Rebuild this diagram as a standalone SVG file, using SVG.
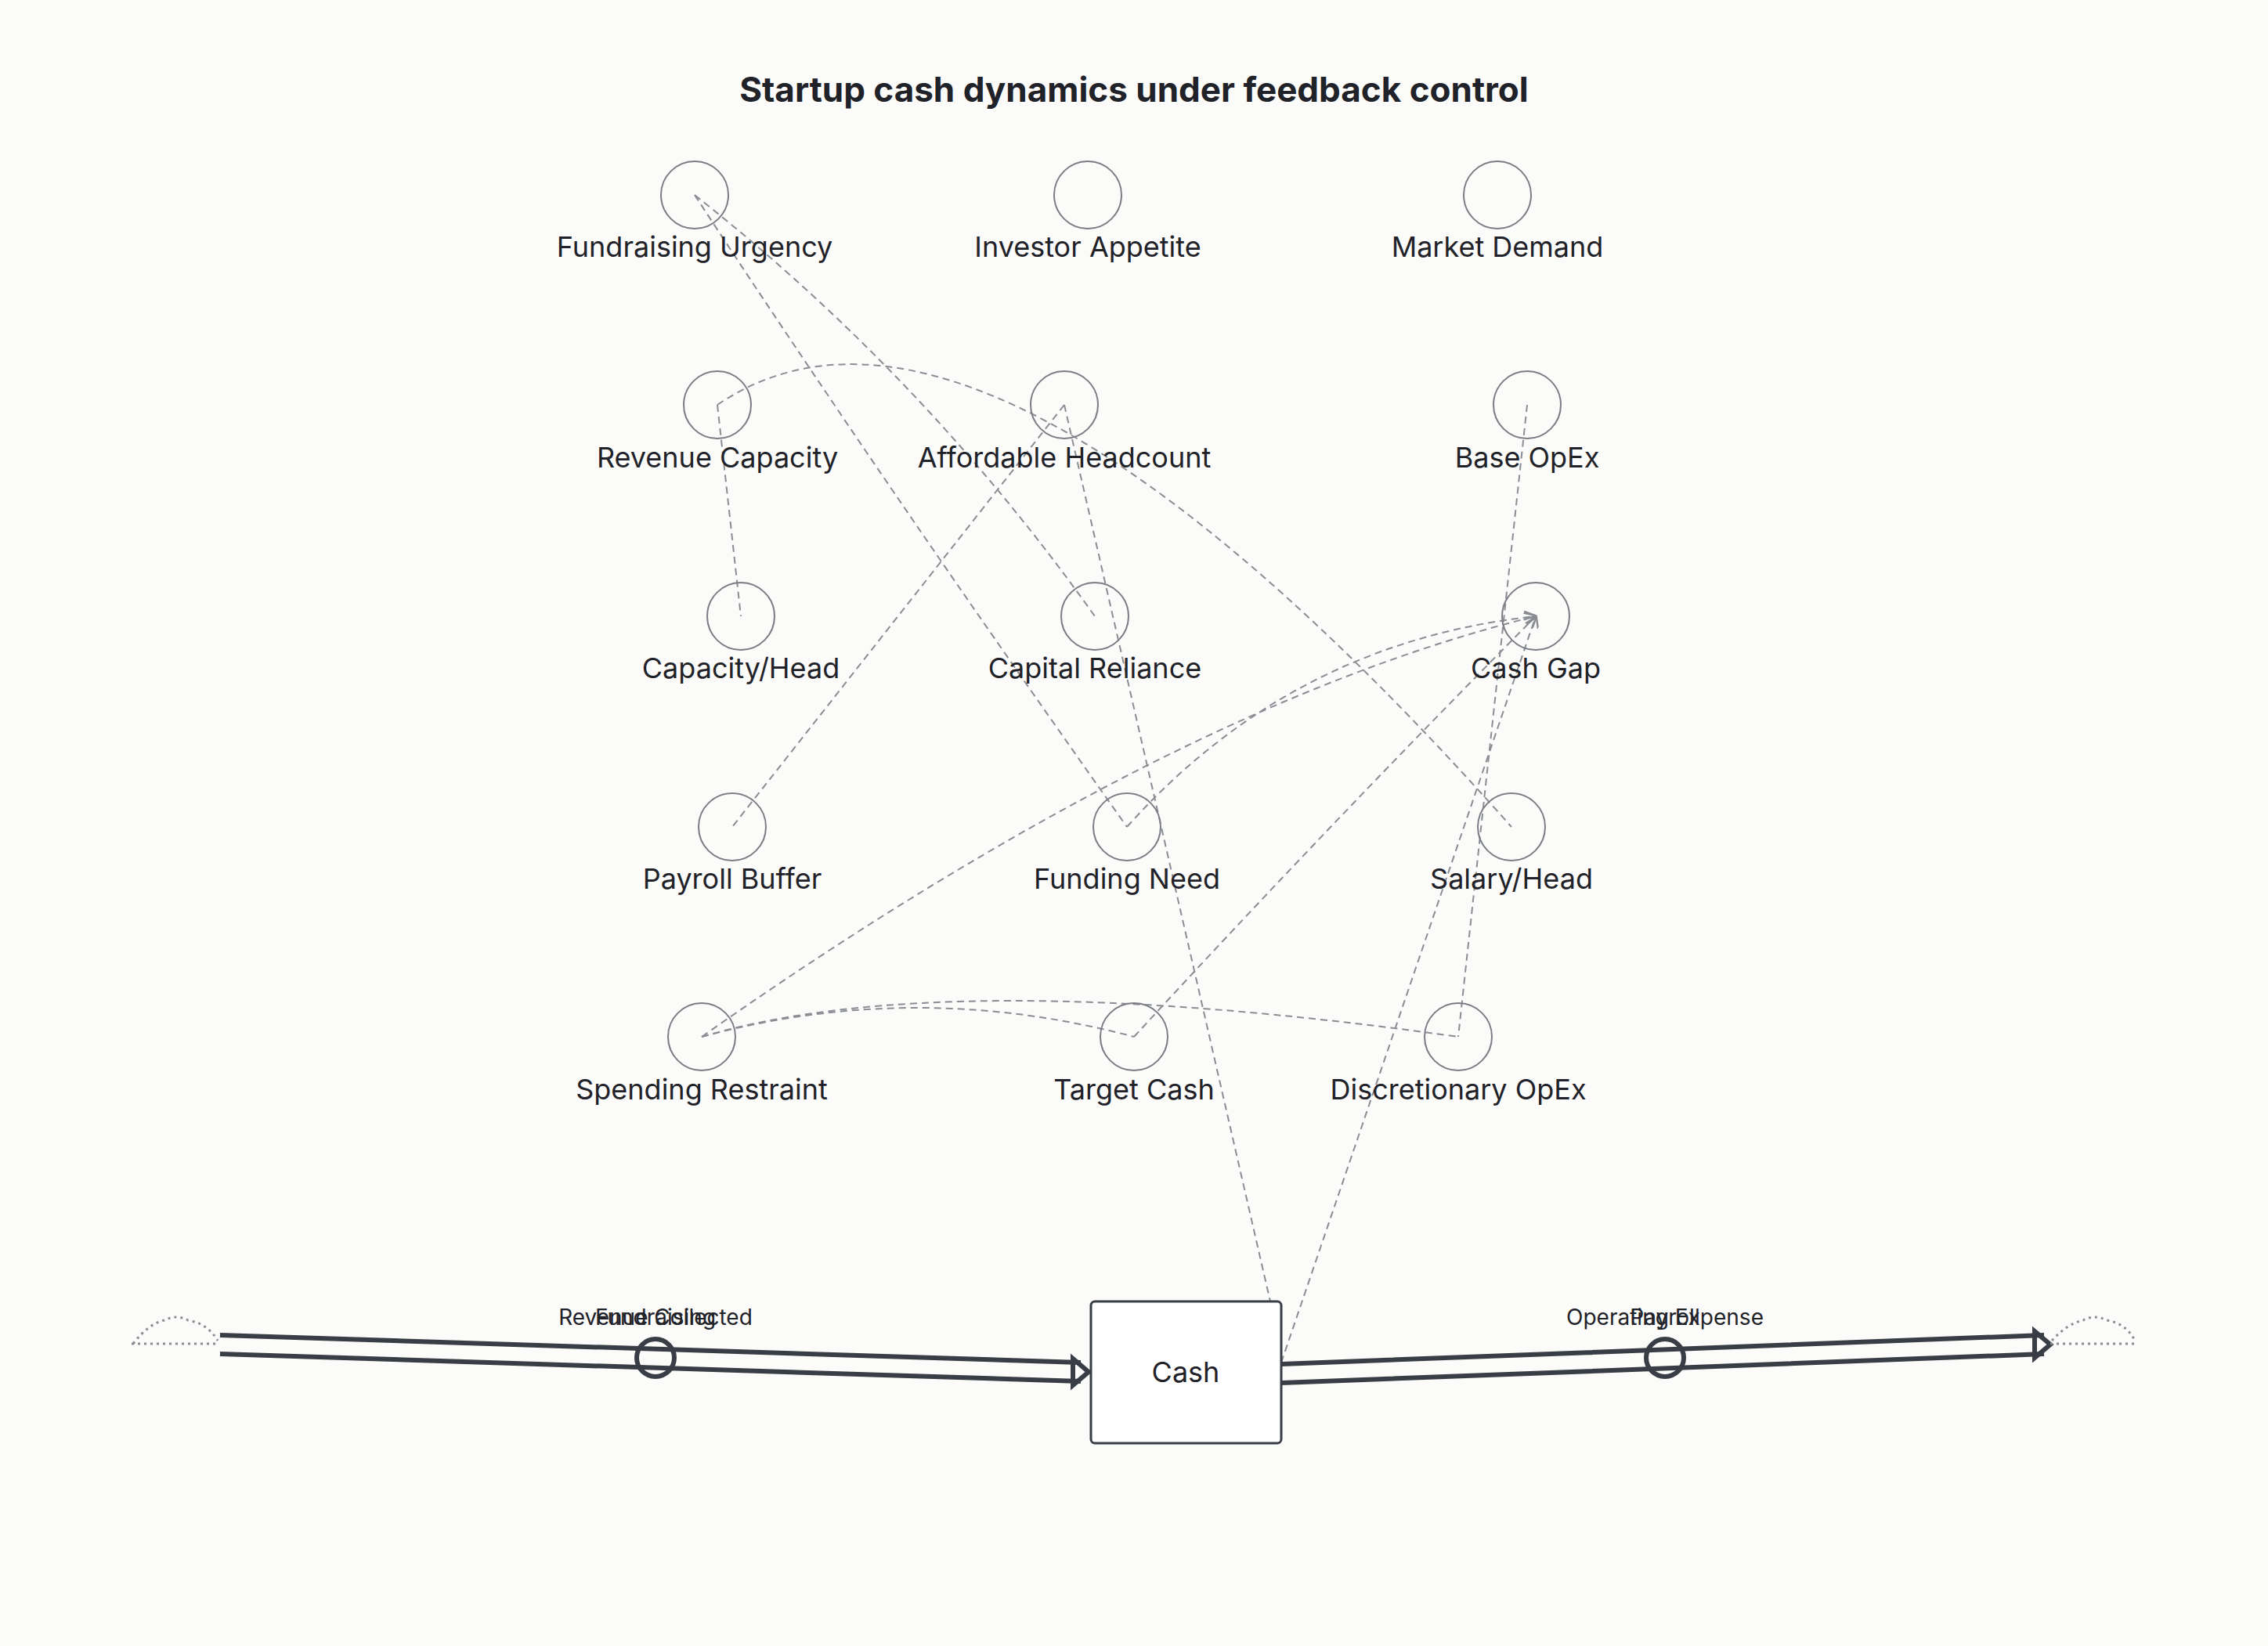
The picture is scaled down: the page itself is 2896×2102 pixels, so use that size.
<svg xmlns="http://www.w3.org/2000/svg" width="2896" height="2102" viewBox="0 0 2896 2102">
<style>
.aux circle{fill:none;stroke:#7a7d85;stroke-width:2}
.lbl{font-family:Inter,"Liberation Sans",sans-serif;font-size:36px;fill:#1f2228;text-anchor:middle}
.flbl{font-family:Inter,"Liberation Sans",sans-serif;font-size:28px;fill:#1f2228;text-anchor:middle}
.link{fill:none;stroke:#8a8d94;stroke-width:2;stroke-dasharray:9 6}
.pipe{stroke:#393d45;stroke-width:6;fill:none}
.cloud{fill:none;stroke:#8a8d94;stroke-width:3;stroke-dasharray:3 5}
</style>
<defs>
<marker id="ah" viewBox="0 0 10 10" refX="9" refY="5" markerWidth="8" markerHeight="8" orient="auto"><path d="M0,0 L10,5 L0,10" fill="none" stroke="#8a8d94" stroke-width="1.5"/></marker>
</defs>
<rect width="2896" height="2102" fill="#fbfbf9"/>
<text x="1448" y="130" font-family="Inter,'Liberation Sans',sans-serif" font-size="44" font-weight="bold" fill="#1f2228" text-anchor="middle">Startup cash dynamics under feedback control</text>
<g id="connectors">
<path class="link" d="M887,249 Q1130,620 1439,1056"/>
<path class="link" d="M887,249 Q1180,480 1398,787"/>
<path class="link" d="M916,517 L946,787"/>
<path class="link" d="M916,517 Q1250,290 1930,1056"/>
<path class="link" d="M1359,517 L935,1056"/>
<path class="link" d="M1359,517 L1622,1662"/>
<path class="link" d="M1950,517 L1862,1324"/>
<path class="link" d="M1636,1740 L1961,787" marker-end="url(#ah)"/>
<path class="link" d="M896,1324 Q1500,900 1961,787" marker-end="url(#ah)"/>
<path class="link" d="M1439,1056 Q1650,820 1961,787" marker-end="url(#ah)"/>
<path class="link" d="M1448,1324 Q1700,1050 1961,787" marker-end="url(#ah)"/>
<path class="link" d="M896,1324 Q1170,1250 1448,1324"/>
<path class="link" d="M896,1324 Q1207,1232 1862,1324"/>
</g>
<g class="aux">
<g id="fundraising-urgency"><circle cx="887" cy="249" r="43"/><text class="lbl" x="887" y="328">Fundraising Urgency</text></g>
<g id="investor-appetite"><circle cx="1389" cy="249" r="43"/><text class="lbl" x="1389" y="328">Investor Appetite</text></g>
<g id="market-demand"><circle cx="1912" cy="249" r="43"/><text class="lbl" x="1912" y="328">Market Demand</text></g>
<g id="revenue-capacity"><circle cx="916" cy="517" r="43"/><text class="lbl" x="916" y="597">Revenue Capacity</text></g>
<g id="affordable-headcount"><circle cx="1359" cy="517" r="43"/><text class="lbl" x="1359" y="597">Affordable Headcount</text></g>
<g id="base-opex"><circle cx="1950" cy="517" r="43"/><text class="lbl" x="1950" y="597">Base OpEx</text></g>
<g id="capacity-head"><circle cx="946" cy="787" r="43"/><text class="lbl" x="946" y="866">Capacity/Head</text></g>
<g id="capital-reliance"><circle cx="1398" cy="787" r="43"/><text class="lbl" x="1398" y="866">Capital Reliance</text></g>
<g id="cash-gap"><circle cx="1961" cy="787" r="43"/><text class="lbl" x="1961" y="866">Cash Gap</text></g>
<g id="payroll-buffer"><circle cx="935" cy="1056" r="43"/><text class="lbl" x="935" y="1135">Payroll Buffer</text></g>
<g id="funding-need"><circle cx="1439" cy="1056" r="43"/><text class="lbl" x="1439" y="1135">Funding Need</text></g>
<g id="salary-head"><circle cx="1930" cy="1056" r="43"/><text class="lbl" x="1930" y="1135">Salary/Head</text></g>
<g id="spending-restraint"><circle cx="896" cy="1324" r="43"/><text class="lbl" x="896" y="1404">Spending Restraint</text></g>
<g id="target-cash"><circle cx="1448" cy="1324" r="43"/><text class="lbl" x="1448" y="1404">Target Cash</text></g>
<g id="discretionary-opex"><circle cx="1862" cy="1324" r="43"/><text class="lbl" x="1862" y="1404">Discretionary OpEx</text></g>
</g>
<g id="cash"><rect x="1393" y="1662" width="243" height="181" rx="5" fill="#fff" stroke="#393d45" stroke-width="3"/><text class="lbl" x="1514" y="1765">Cash</text></g>
<g id="inflows">
<path class="cloud" d="M168,1716 L278,1716 M170,1716 Q190,1690 210,1686 Q225,1678 240,1686 Q265,1690 278,1712"/>
<path class="pipe" d="M281,1705 L1380,1740 M281,1729 L1380,1764"/>
<path class="pipe" d="M1370,1735 L1390,1752 L1370,1769 Z" fill="none"/>
<circle cx="837" cy="1734" r="24" fill="none" stroke="#393d45" stroke-width="6"/>
<text class="flbl" x="837" y="1692">Revenue Collected</text>
<text class="flbl" x="837" y="1692">Fundraising</text>
</g>
<g id="outflows">
<path class="pipe" d="M1636,1742 L2610,1705 M1636,1766 L2610,1729"/>
<path class="pipe" d="M2598,1700 L2618,1717 L2598,1734 Z" fill="none"/>
<circle cx="2126" cy="1734" r="24" fill="none" stroke="#393d45" stroke-width="6"/>
<text class="flbl" x="2126" y="1692">Operating Expense</text>
<text class="flbl" x="2126" y="1692">Payroll</text>
<path class="cloud" d="M2618,1716 L2728,1716 M2620,1712 Q2640,1690 2660,1686 Q2675,1678 2690,1686 Q2715,1690 2726,1712"/>
</g>
</svg>
